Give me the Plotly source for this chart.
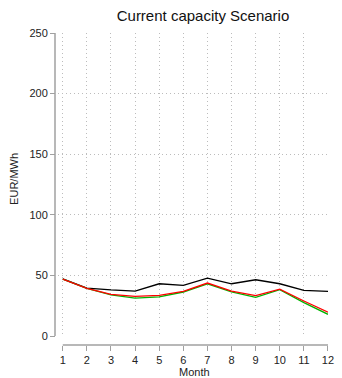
import plotly.graph_objects as go

months = list(range(1, 13))
black_series = [47.2, 39.5, 38.0, 37.1, 43.1, 41.7, 47.8, 43.1, 46.4, 43.1, 37.6, 36.8]
green_series = [47.0, 39.3, 34.0, 31.3, 32.2, 36.3, 43.1, 36.5, 31.9, 38.2, 27.5, 17.9]
red_series = [47.0, 39.3, 34.3, 32.7, 33.5, 36.8, 43.7, 37.1, 33.3, 38.7, 28.9, 19.6]
y_ticks = [0, 50, 100, 150, 200, 250]

FONT = "Liberation Sans, Arial, sans-serif"
GRID = "#bcbcbc"
AXIS = "#a0a0a0"

W, H = 342, 378
L, R, T, B = 55, 8, 33, 33
PW, PH = W - L - R, H - T - B

fig = go.Figure()
for vals, col in [(black_series, "#000000"), (green_series, "#00b400"), (red_series, "#ff0000")]:
    fig.add_trace(go.Scatter(
        x=months, y=vals, mode="lines",
        line=dict(color=col, width=1.3),
        showlegend=False, cliponaxis=False,
    ))

common_axis = dict(
    showgrid=True, gridcolor=GRID, griddash="1px,3px", gridwidth=1,
    showline=False, ticks="outside", ticklen=5, tickcolor=AXIS, tickwidth=1.2,
    zeroline=False, tickfont=dict(size=11, color="#222"),
)

fig.update_layout(
    width=W, height=H,
    margin=dict(l=L, r=R, t=T, b=B),
    paper_bgcolor="white", plot_bgcolor="white",
    font=dict(family=FONT, size=11, color="#222"),
    title=dict(text="Current capacity Scenario", x=203 / W, xref="container",
               xanchor="center", y=1 - 16 / H, yref="container", yanchor="middle",
               font=dict(size=15, color="#111")),
    xaxis=dict(
        domain=[3 / PW, 1], range=[0.8, 12], anchor="free", position=0,
        tickmode="array", tickvals=months, ticktext=[str(m) for m in months],
        **common_axis,
    ),
    yaxis=dict(
        domain=[9 / PH, 1], range=[0, 250], anchor="free", position=0,
        tickmode="array", tickvals=y_ticks, ticktext=[str(v) for v in y_ticks],
        **common_axis,
    ),
    shapes=[
        # x axis line spanning the first to the last month, below the plot area
        dict(type="line", xref="x", yref="paper", x0=months[0], x1=months[-1],
             y0=0, y1=0, line=dict(color=AXIS, width=1.5)),
        # y axis line spanning the tick range, left of the plot area
        dict(type="line", xref="paper", yref="y", x0=0, x1=0,
             y0=y_ticks[0], y1=y_ticks[-1], line=dict(color=AXIS, width=1.5)),
    ],
    annotations=[
        dict(text="EUR/MWh", xref="paper", x=(13 - L) / PW, yref="paper",
             y=(H - B - 179) / PH, showarrow=False, textangle=-90,
             font=dict(size=11, color="#222"), xanchor="center", yanchor="middle"),
        dict(text="Month", xref="paper", x=(198 - L) / PW, yref="paper",
             y=(H - B - 372) / PH, showarrow=False,
             font=dict(size=11, color="#222"), xanchor="center", yanchor="middle"),
    ],
)

fig.write_html("out.html")
